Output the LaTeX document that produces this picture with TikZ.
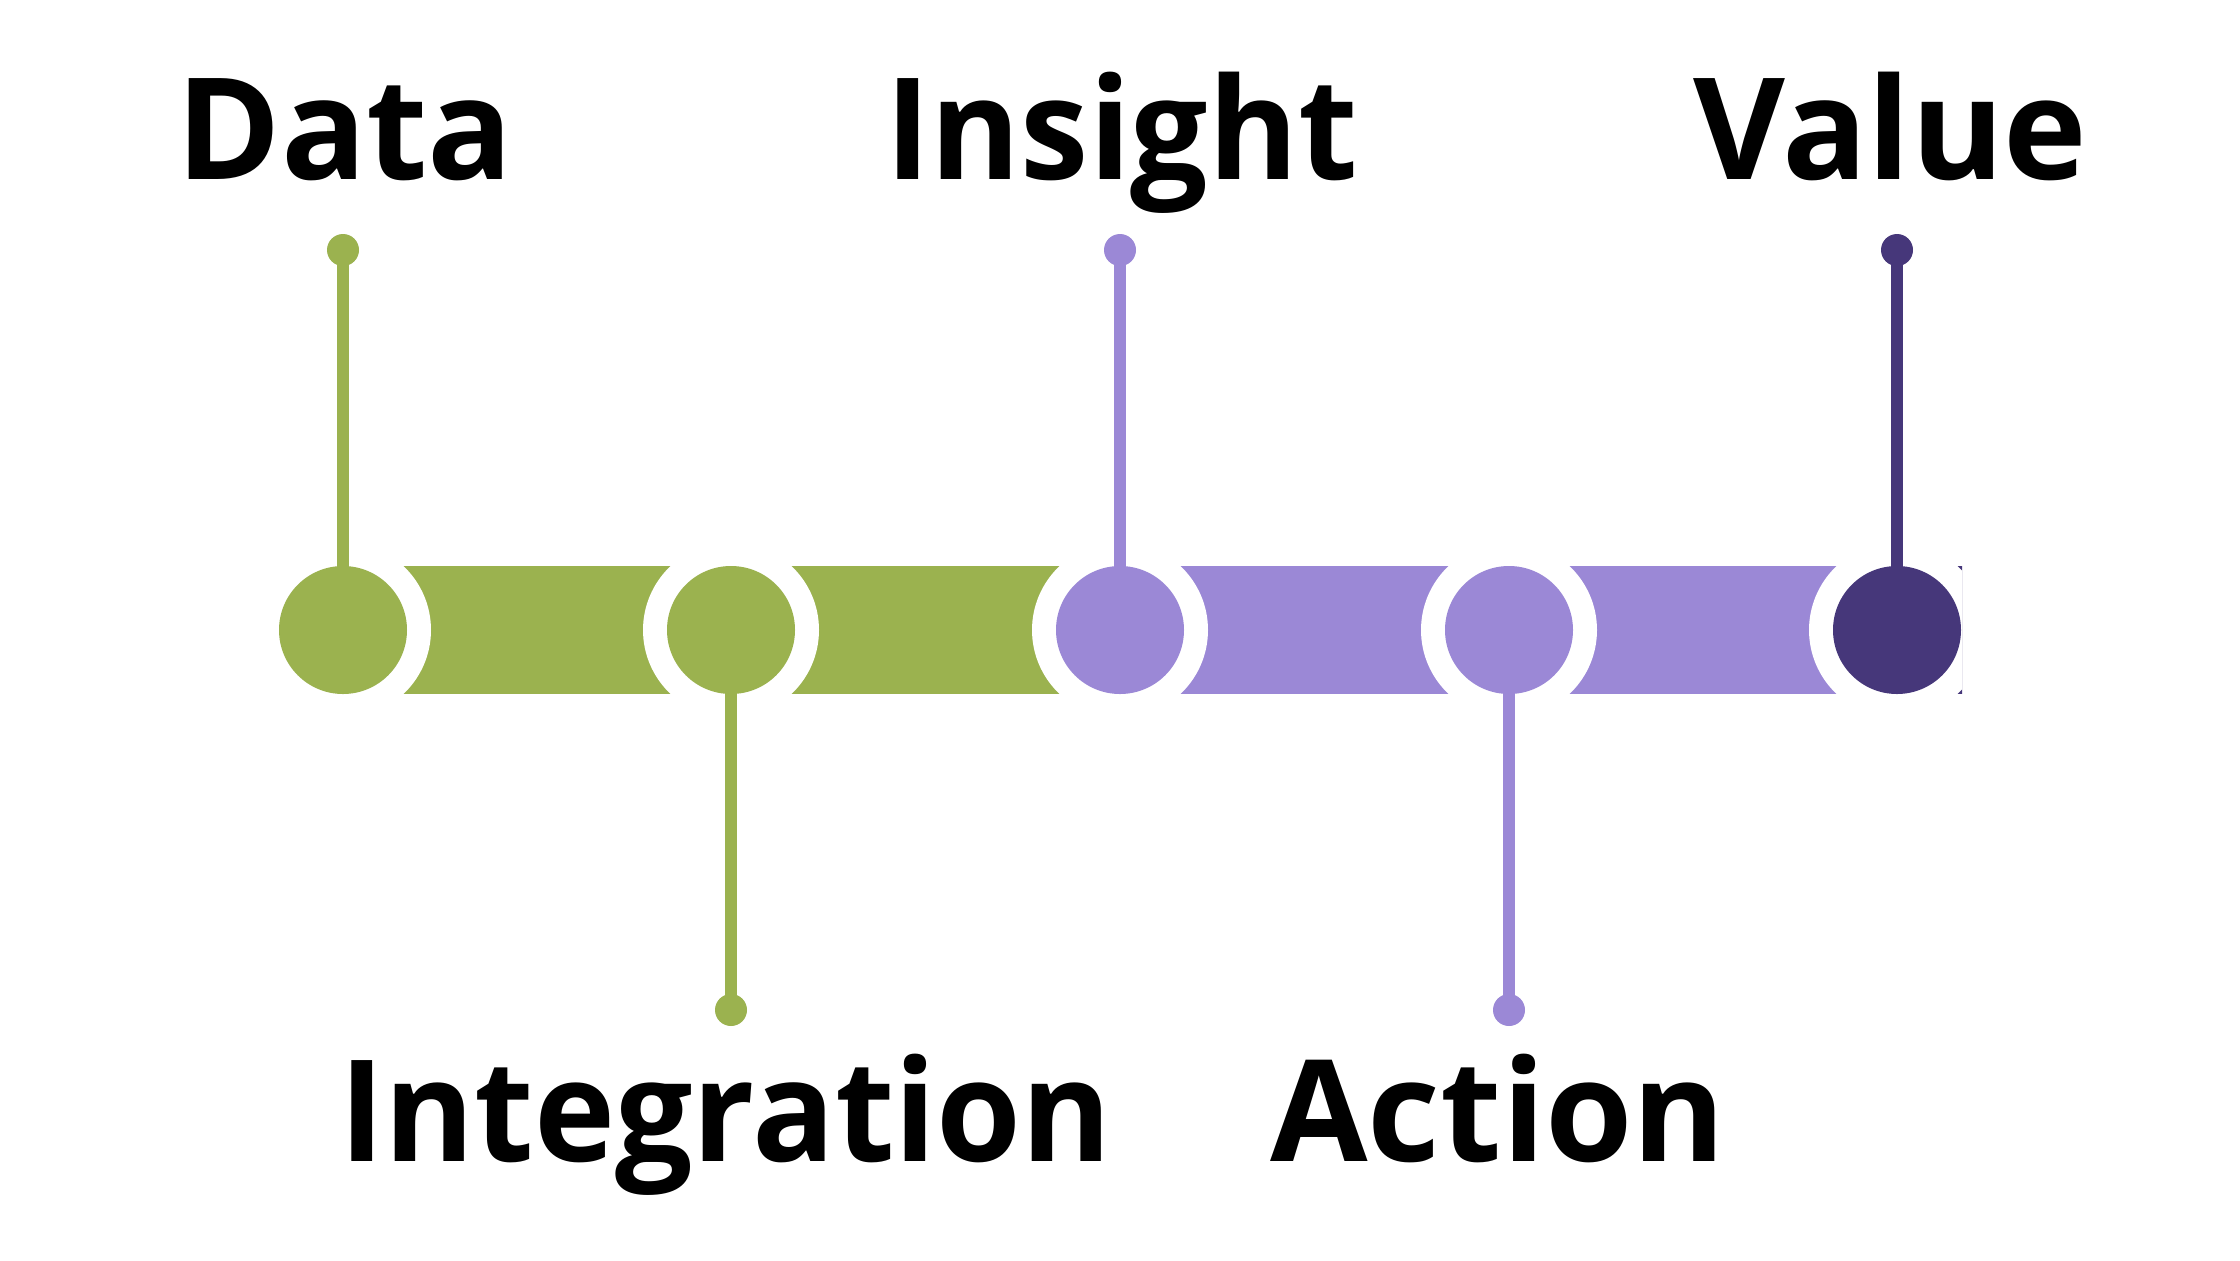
\documentclass[tikz,border=0pt]{standalone}
\usepackage{fontspec}
\setmainfont{Open Sans}
\definecolor{grn}{HTML}{9BB24F}
\definecolor{lpur}{HTML}{9B88D6}
\definecolor{dpur}{HTML}{46377A}
\begin{document}
\begin{tikzpicture}[x=0.5pt,y=-0.5pt,
  hub/.style={circle,minimum size=64pt,inner sep=0pt,fill=#1},
  pin/.style={circle,minimum size=16pt,inner sep=0pt,fill=#1},
  stem/.style={line width=6pt,draw=#1},
  lab/.style={anchor=base west,inner sep=0pt,font=\fontsize{70.7}{80}\selectfont\bfseries}]
\useasboundingbox[fill=white] (0,0) rectangle (2240,1260);
% bars
\begin{scope}
\clip (0,0) rectangle (1962,1260);
\fill[grn]  (343,566) rectangle (731,694);
\fill[grn]  (731,566) rectangle (1120,694);
\fill[lpur] (1120,566) rectangle (1509,694);
\fill[lpur] (1509,566) rectangle (1897,694);
\fill[dpur] (1897,566) rectangle (2000,694);
\foreach \cx in {343,731,1120,1509,1897}
  \fill[white] (\cx,630) circle[radius=44pt];
\end{scope}
% hubs
\node[hub=grn]  (h1) at (343,630) {};
\node[hub=grn]  (h2) at (731,630) {};
\node[hub=lpur] (h3) at (1120,630) {};
\node[hub=lpur] (h4) at (1509,630) {};
\node[hub=dpur] (h5) at (1897,630) {};
% pins
\node[pin=grn]  (p1) at (343,250) {};
\node[pin=grn]  (p2) at (731,1010) {};
\node[pin=lpur] (p3) at (1120,250) {};
\node[pin=lpur] (p4) at (1509,1010) {};
\node[pin=dpur] (p5) at (1897,250) {};
\draw[stem=grn]  (p1.center) -- (h1.center);
\draw[stem=grn]  (p2.center) -- (h2.center);
\draw[stem=lpur] (p3.center) -- (h3.center);
\draw[stem=lpur] (p4.center) -- (h4.center);
\draw[stem=dpur] (p5.center) -- (h5.center);
% labels
\node[lab] (t1) at (176,179) {Data};
\node[lab] (t2) at (885,179) {\scalebox{0.97}[1]{Insight}};
\node[lab] (t3) at (1693,179) {Value};
\node[lab] (t4) at (339,1161) {\scalebox{0.97}[1]{Integration}};
\node[lab] (t5) at (1270,1161) {Action};
\end{tikzpicture}
\end{document}
